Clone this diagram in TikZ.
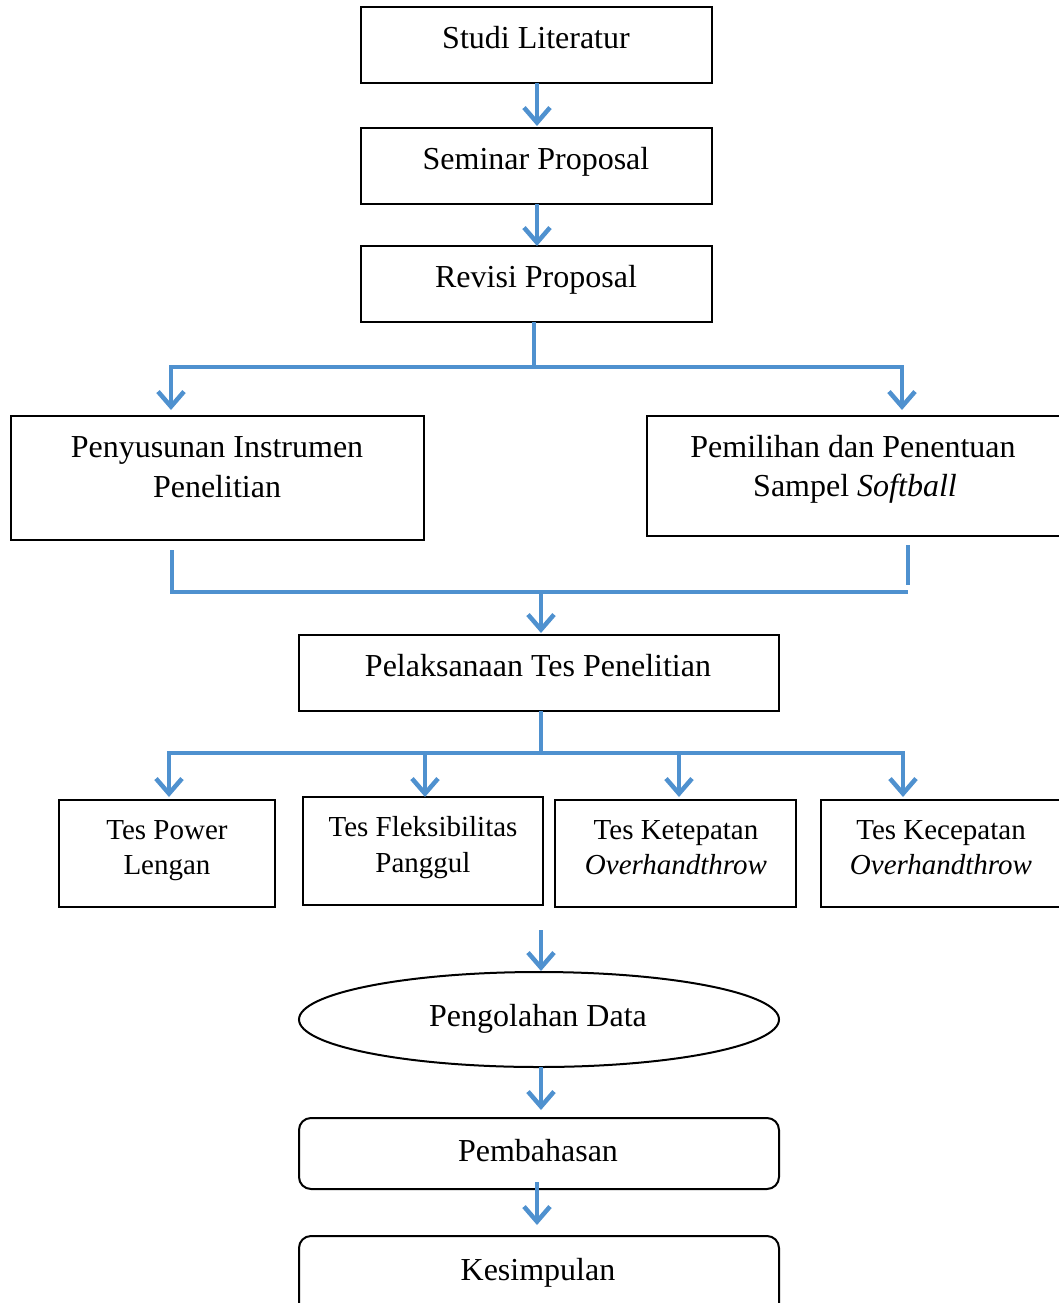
\documentclass[tikz,border=0pt]{standalone}
\usepackage{fontspec}
\setmainfont{Liberation Serif}
\usetikzlibrary{arrows.meta,shapes.geometric,calc}
\definecolor{flow}{RGB}{79,145,207}
\begin{document}
\begin{tikzpicture}[x=1pt,y=-1pt,
  box/.style={draw=black,line width=2pt,inner sep=0pt,rectangle},
  rbox/.style={box,rounded corners=12pt},
  ebox/.style={draw=black,line width=2pt,inner sep=0pt,ellipse},
  lbl/.style={inner sep=0pt,anchor=base,font=\fontsize{32}{40}\selectfont},
  slbl/.style={inner sep=0pt,anchor=base,font=\fontsize{29}{36}\selectfont},
  conn/.style={draw=flow,line width=4pt},
  tip/.style={Straight Barb[length=15pt,width=26pt,line width=4.5pt]},
  arr/.style={conn,-{Straight Barb[length=15pt,width=26pt,line width=4.5pt]}},
  barr/.style={conn,{Straight Barb[length=15pt,width=26pt,line width=4.5pt]}-{Straight Barb[length=15pt,width=26pt,line width=4.5pt]}}]
\useasboundingbox (0,0) rectangle (1059,1303);
\clip (0,0) rectangle (1059,1303);

% boxes
\node[box,minimum width=351pt,minimum height=76pt] (s1) at (536.5,45) {};
\node[box,minimum width=351pt,minimum height=76pt] (s2) at (536.5,166) {};
\node[box,minimum width=351pt,minimum height=76pt] (s3) at (536.5,284) {};
\node[box,minimum width=413pt,minimum height=124pt] (pen) at (217.5,478) {};
\node[box,minimum width=428pt,minimum height=120pt] (pem) at (861,476) {};
\node[box,minimum width=480pt,minimum height=76pt] (pel) at (539,673) {};
\node[box,minimum width=216pt,minimum height=107pt] (t1) at (167,853.5) {};
\node[box,minimum width=240pt,minimum height=108pt] (t2) at (423,851) {};
\node[box,minimum width=241pt,minimum height=107pt] (t3) at (675.5,853.5) {};
\node[box,minimum width=254pt,minimum height=107pt] (t4) at (948,853.5) {};
\node[ebox,minimum width=480pt,minimum height=95pt] (ol) at (539,1019.5) {};
\node[rbox,minimum width=480pt,minimum height=71pt] (pb) at (539,1153.5) {};
\node[rbox,minimum width=480pt,minimum height=90pt] (ks) at (539,1281) {};

% labels
\node[lbl] (s1t) at (536,48.5) {Studi Literatur};
\node[lbl] (s2t) at (536,169.5) {Seminar Proposal};
\node[lbl] (s3t) at (536,287.5) {Revisi Proposal};
\node[lbl] (pent1) at (217,457) {Penyusunan Instrumen};
\node[lbl] (pent2) at (217,497) {Penelitian};
\node[lbl] (pemt1) at (853,457) {Pemilihan dan Penentuan};
\node[lbl] (pemt2) at (855,496.5) {Sampel \textit{Softball}};
\node[lbl] (pelt) at (538,676.5) {Pelaksanaan Tes Penelitian};
\node[slbl] (t1a) at (167,839) {Tes Power};
\node[slbl] (t1b) at (167,874.5) {Lengan};
\node[slbl] (t2a) at (423,836) {Tes Fleksibilitas};
\node[slbl] (t2b) at (423,872) {Panggul};
\node[slbl] (t3a) at (676,839) {Tes Ketepatan};
\node[slbl] (t3b) at (676,874.5) {\textit{Overhandthrow}};
\node[slbl] (t4a) at (941,839) {Tes Kecepatan};
\node[slbl] (t4b) at (941,874.5) {\textit{Overhandthrow}};
\node[lbl] (olt) at (538,1026) {Pengolahan Data};
\node[lbl] (pbt) at (538,1161) {Pembahasan};
\node[lbl] (kst) at (538,1280) {Kesimpulan};

% coordinates
\coordinate (a1s) at (537,83);   \coordinate (a1e) at (537,126);
\coordinate (a2s) at (537,204);  \coordinate (a2e) at (537,246);
\coordinate (b0) at (534,322);   \coordinate (b1) at (534,367);
\coordinate (bl) at (171,410);   \coordinate (blt) at (171,367);
\coordinate (br) at (902,410);   \coordinate (brt) at (902,367);
\coordinate (ml0) at (172,550);  \coordinate (ml1) at (172,592);
\coordinate (mr0) at (908,545);  \coordinate (mr1) at (908,585);
\coordinate (mr2) at (908,592);
\coordinate (mc) at (541,592);   \coordinate (mce) at (541,633);
\coordinate (c0) at (541,711);   \coordinate (c1) at (541,753);
\coordinate (cl) at (169,797);   \coordinate (clt) at (169,753);
\coordinate (cr) at (903,797);   \coordinate (crt) at (903,753);
\coordinate (cm1) at (425,753);  \coordinate (cm1e) at (425,797);
\coordinate (cm2) at (679,753);  \coordinate (cm2e) at (679,797);
\coordinate (d0) at (541,930);   \coordinate (d1) at (541,971);
\coordinate (e0) at (541,1067);  \coordinate (e1) at (541,1110);
\coordinate (f0) at (537,1182);  \coordinate (f1) at (537,1225);

% connectors
\draw[arr] (a1s) -- (a1e);
\draw[arr] (a2s) -- (a2e);
\draw[conn] (b0) -- (b1);
\draw[barr] (bl) -- (blt) -- (brt) -- (br);
\draw[conn] (ml0) -- (ml1) -- (mr2);
\draw[conn] (mr0) -- (mr1);
\draw[arr] (mc) -- (mce);
\draw[conn] (c0) -- (c1);
\draw[barr] (cl) -- (clt) -- (crt) -- (cr);
\draw[arr] (cm1) -- (cm1e);
\draw[arr] (cm2) -- (cm2e);
\draw[arr] (d0) -- (d1);
\draw[arr] (e0) -- (e1);
\draw[arr] (f0) -- (f1);
\end{tikzpicture}
\end{document}
